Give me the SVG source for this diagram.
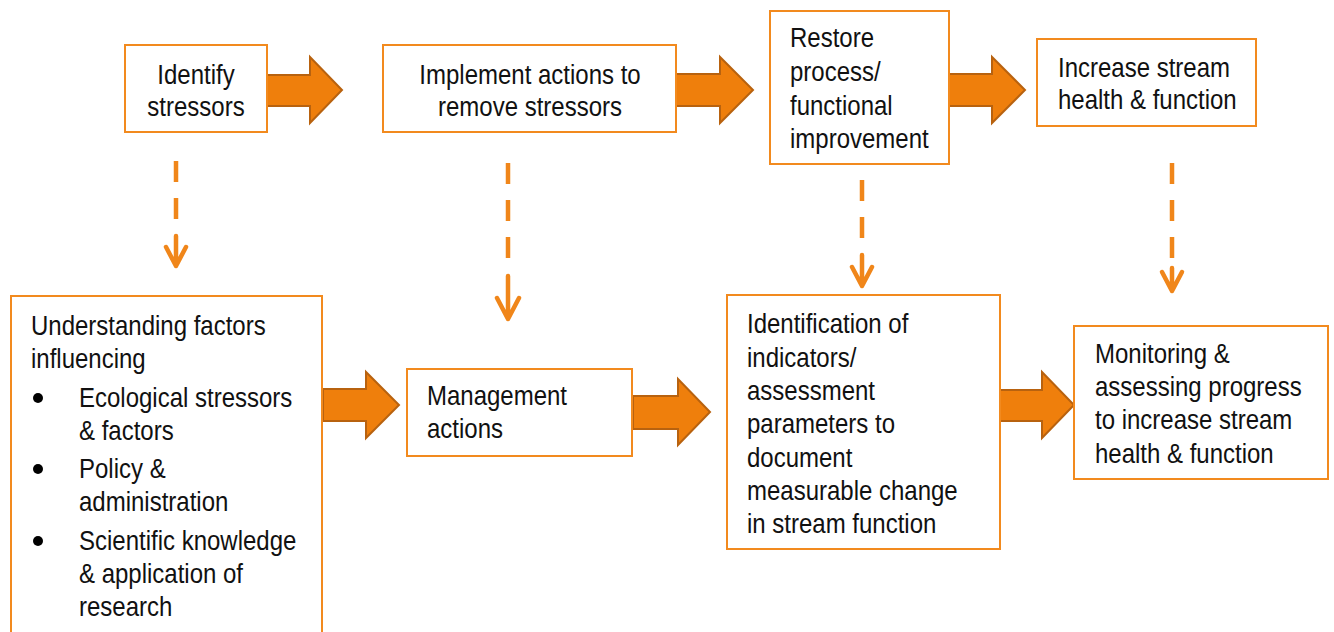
<svg xmlns="http://www.w3.org/2000/svg" width="1334" height="632" viewBox="0 0 1334 632">
<style>
.box{fill:#fff;stroke:#F28A1E;stroke-width:2}
.t{font-family:"Liberation Sans",Arial,sans-serif;font-size:24px;fill:#111}
.c{text-anchor:middle}
.blk{fill:#EF7F0C;stroke:#B8620F;stroke-width:2;stroke-linejoin:miter}
.dash{stroke:#F0861A;stroke-width:4.5;fill:none;stroke-dasharray:21 16}
.head{stroke:#F0861A;stroke-width:4.5;fill:none;stroke-linecap:round;stroke-linejoin:round}
</style>
<rect width="1334" height="632" fill="#fff"/>

<g id="connectors">
  <path class="blk" d="M267,75 H310 V57 L342,90 L310,123 V106 H267 Z"/>
  <path class="blk" d="M676,74 H720 V57 L753,90 L720,123 V106 H676 Z"/>
  <path class="blk" d="M949,74 H992 V57 L1025,90 L992,123 V106 H949 Z"/>
  <path class="blk" d="M323,389 H366 V372 L399,405 L366,438 V421 H323 Z"/>
  <path class="blk" d="M633,396 H678 V379 L710,412 L678,445 V429 H633 Z"/>
  <path class="blk" d="M1000,390 H1042 V372 L1074,405 L1042,438 V421 H1000 Z"/>
  <line class="dash" x1="176" y1="161" x2="176" y2="220"/>
  <path class="head" d="M176,236 V266 M166,247 L176,266 L186,247"/>
  <line class="dash" x1="508" y1="163" x2="508" y2="259"/>
  <path class="head" d="M508,276 V319 M497,298 L508,319 L519,298"/>
  <line class="dash" x1="862" y1="180" x2="862" y2="239"/>
  <path class="head" d="M862,255 V286 M852,267 L862,286 L872,267"/>
  <line class="dash" x1="1172" y1="163" x2="1172" y2="259"/>
  <path class="head" d="M1172,268 V291 M1162,272 L1172,291 L1182,272"/>
</g>

<g id="identify-stressors">
  <rect class="box" x="125" y="45" width="142" height="87"/>
  <text class="t c" transform="translate(196 84) scale(1 1.13)">Identify</text>
  <text class="t c" transform="translate(196 116) scale(1 1.13)">stressors</text>
</g>

<g id="implement-actions">
  <rect class="box" x="383" y="45" width="293" height="87"/>
  <text class="t c" transform="translate(530 84) scale(1 1.13)">Implement actions to</text>
  <text class="t c" transform="translate(530 116) scale(1 1.13)">remove stressors</text>
</g>

<g id="restore-process">
  <rect class="box" x="770" y="11" width="179" height="153"/>
  <text class="t" transform="translate(790 47) scale(1 1.13)">Restore</text>
  <text class="t" transform="translate(790 81) scale(1 1.13)">process/</text>
  <text class="t" transform="translate(790 115) scale(1 1.13)">functional</text>
  <text class="t" transform="translate(790 148) scale(1 1.13)">improvement</text>
</g>

<g id="increase-health">
  <rect class="box" x="1037" y="39" width="219" height="87"/>
  <text class="t" transform="translate(1058 77) scale(1 1.13)">Increase stream</text>
  <text class="t" transform="translate(1058 109) scale(1 1.13)">health &amp; function</text>
</g>

<g id="understanding-factors">
  <rect class="box" x="11" y="296" width="311" height="360"/>
  <text class="t" transform="translate(31 335) scale(1 1.13)">Understanding factors</text>
  <text class="t" transform="translate(31 368) scale(1 1.13)">influencing</text>
  <circle cx="38" cy="398" r="5" fill="#000"/>
  <text class="t" transform="translate(79 407) scale(1 1.13)">Ecological stressors</text>
  <text class="t" transform="translate(79 440) scale(1 1.13)">&amp; factors</text>
  <circle cx="38" cy="469" r="5" fill="#000"/>
  <text class="t" transform="translate(79 478) scale(1 1.13)">Policy &amp;</text>
  <text class="t" transform="translate(79 511) scale(1 1.13)">administration</text>
  <circle cx="38" cy="541" r="5" fill="#000"/>
  <text class="t" transform="translate(79 550) scale(1 1.13)">Scientific knowledge</text>
  <text class="t" transform="translate(79 583) scale(1 1.13)">&amp; application of</text>
  <text class="t" transform="translate(79 616) scale(1 1.13)">research</text>
</g>

<g id="management-actions">
  <rect class="box" x="407" y="369" width="225" height="87"/>
  <text class="t" transform="translate(427 405) scale(1 1.13)">Management</text>
  <text class="t" transform="translate(427 438) scale(1 1.13)">actions</text>
</g>

<g id="identification-indicators">
  <rect class="box" x="727" y="295" width="273" height="254"/>
  <text class="t" transform="translate(747 333) scale(1 1.13)">Identification of</text>
  <text class="t" transform="translate(747 367) scale(1 1.13)">indicators/</text>
  <text class="t" transform="translate(747 400) scale(1 1.13)">assessment</text>
  <text class="t" transform="translate(747 433) scale(1 1.13)">parameters to</text>
  <text class="t" transform="translate(747 467) scale(1 1.13)">document</text>
  <text class="t" transform="translate(747 500) scale(1 1.13)">measurable change</text>
  <text class="t" transform="translate(747 533) scale(1 1.13)">in stream function</text>
</g>

<g id="monitoring-progress">
  <rect class="box" x="1074" y="326" width="254" height="153"/>
  <text class="t" transform="translate(1095 363) scale(1 1.13)">Monitoring &amp;</text>
  <text class="t" transform="translate(1095 396) scale(1 1.13)">assessing progress</text>
  <text class="t" transform="translate(1095 429) scale(1 1.13)">to increase stream</text>
  <text class="t" transform="translate(1095 463) scale(1 1.13)">health &amp; function</text>
</g>
</svg>
